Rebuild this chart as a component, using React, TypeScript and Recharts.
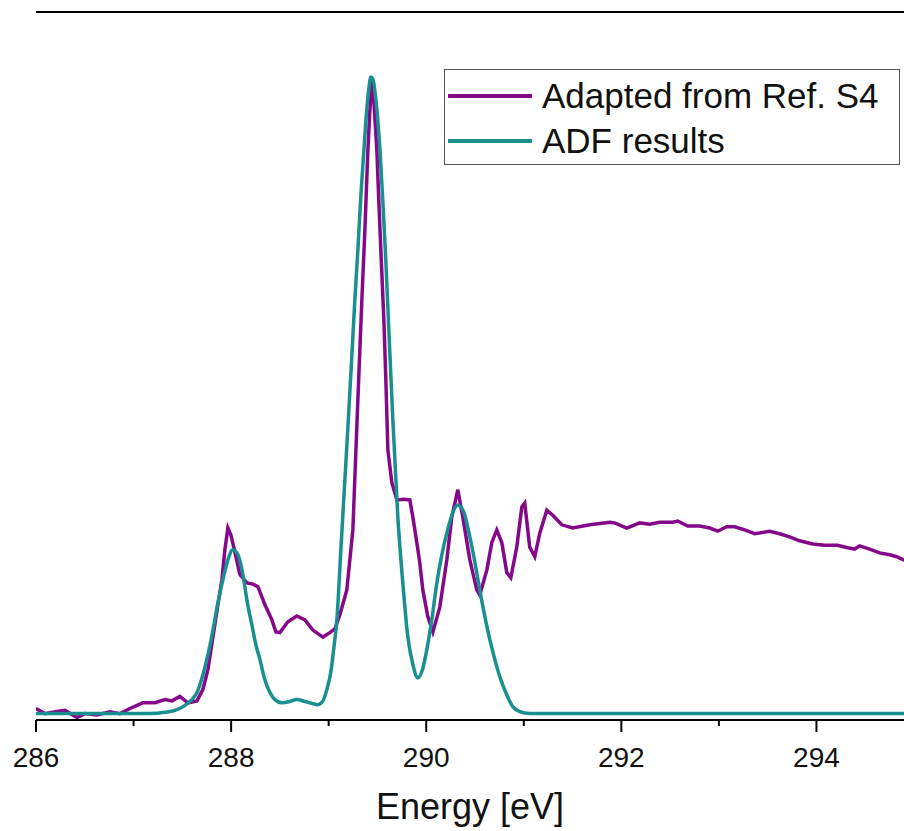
import React from 'react'
import { LineChart, Line, XAxis, YAxis, ReferenceLine, Legend } from 'recharts'

// energy (eV) / intensity (normalised, main ADF peak = 1)
const refEnergy = [
  286.0, 286.092, 286.195, 286.297, 286.42, 286.502, 286.625, 286.758, 286.861, 286.963,
  287.096, 287.219, 287.322, 287.393, 287.475, 287.557, 287.65, 287.711, 287.762, 287.814,
  287.865, 287.906, 287.936, 287.967, 287.998, 288.029, 288.09, 288.162, 288.223, 288.275,
  288.346, 288.418, 288.459, 288.5, 288.582, 288.674, 288.756, 288.838, 288.941, 289.012,
  289.064, 289.115, 289.186, 289.248, 289.299, 289.34, 289.371, 289.402, 289.422, 289.443,
  289.463, 289.494, 289.514, 289.535, 289.566, 289.586, 289.607, 289.648, 289.699, 289.77,
  289.832, 289.863, 289.904, 289.934, 289.965, 290.016, 290.068, 290.139, 290.211, 290.262,
  290.324, 290.375, 290.447, 290.518, 290.549, 290.621, 290.672, 290.723, 290.775, 290.826,
  290.867, 290.928, 290.98, 291.01, 291.061, 291.113, 291.164, 291.236, 291.297, 291.389,
  291.502, 291.676, 291.881, 291.932, 292.055, 292.189, 292.291, 292.393, 292.527, 292.578,
  292.68, 292.803, 292.906, 292.988, 293.08, 293.162, 293.264, 293.367, 293.52, 293.623,
  293.725, 293.828, 293.961, 294.084, 294.217, 294.32, 294.391, 294.443, 294.545, 294.648,
  294.75, 294.822, 294.893, 295.0,
]
const refIntensity = [
  0.008, 0.0, 0.003, 0.005, -0.006, 0.0, -0.002, 0.003, 0.0, 0.008,
  0.017, 0.017, 0.022, 0.02, 0.027, 0.017, 0.02, 0.038, 0.069, 0.12,
  0.171, 0.21, 0.257, 0.291, 0.28, 0.26, 0.218, 0.205, 0.203, 0.199,
  0.171, 0.147, 0.128, 0.127, 0.144, 0.153, 0.147, 0.131, 0.12, 0.127,
  0.133, 0.155, 0.194, 0.288, 0.491, 0.648, 0.757, 0.883, 0.945, 0.992,
  0.961, 0.883, 0.804, 0.726, 0.617, 0.523, 0.413, 0.362, 0.335, 0.336,
  0.335, 0.308, 0.268, 0.236, 0.194, 0.152, 0.128, 0.167, 0.241, 0.308,
  0.351, 0.308, 0.241, 0.194, 0.186, 0.225, 0.268, 0.288, 0.268, 0.221,
  0.213, 0.261, 0.324, 0.33, 0.261, 0.246, 0.283, 0.319, 0.311, 0.296,
  0.291, 0.296, 0.3, 0.299, 0.291, 0.299, 0.297, 0.3, 0.3, 0.302,
  0.294, 0.294, 0.291, 0.286, 0.293, 0.293, 0.288, 0.282, 0.286, 0.282,
  0.277, 0.271, 0.266, 0.264, 0.264, 0.26, 0.258, 0.263, 0.258, 0.252,
  0.249, 0.246, 0.241, 0.236,
]

const adfEnergy = [
  286.0, 286.656, 287.168, 287.322, 287.424, 287.527, 287.598, 287.65, 287.711, 287.762,
  287.814, 287.865, 287.916, 287.967, 288.018, 288.07, 288.121, 288.162, 288.213, 288.254,
  288.295, 288.346, 288.398, 288.449, 288.52, 288.602, 288.674, 288.756, 288.828, 288.889,
  288.941, 288.982, 289.023, 289.053, 289.084, 289.125, 289.166, 289.207, 289.238, 289.268,
  289.299, 289.33, 289.361, 289.391, 289.412, 289.432, 289.453, 289.473, 289.504, 289.525,
  289.555, 289.586, 289.617, 289.658, 289.709, 289.76, 289.811, 289.863, 289.914, 289.955,
  290.006, 290.057, 290.109, 290.16, 290.211, 290.262, 290.324, 290.385, 290.447, 290.498,
  290.549, 290.6, 290.652, 290.703, 290.754, 290.816, 290.887, 290.959, 291.061, 291.779,
  295.0,
]
const adfIntensity = [
  0.0, 0.0, 0.0, 0.002, 0.005, 0.013, 0.022, 0.033, 0.061, 0.092,
  0.131, 0.174, 0.21, 0.241, 0.257, 0.249, 0.218, 0.178, 0.139, 0.108,
  0.085, 0.053, 0.033, 0.022, 0.017, 0.019, 0.022, 0.019, 0.016, 0.014,
  0.02, 0.038, 0.066, 0.103, 0.147, 0.257, 0.366, 0.476, 0.562, 0.648,
  0.726, 0.812, 0.883, 0.948, 0.98, 0.998, 0.995, 0.977, 0.93, 0.886,
  0.804, 0.71, 0.601, 0.46, 0.308, 0.205, 0.121, 0.077, 0.056, 0.066,
  0.1, 0.147, 0.205, 0.249, 0.283, 0.311, 0.327, 0.316, 0.277, 0.238,
  0.194, 0.153, 0.116, 0.085, 0.058, 0.033, 0.011, 0.003, 0.0, 0.0,
  0.0,
]

const seriesNames = ['Adapted from Ref. S4', 'ADF results']
const energyTicks = [286, 287, 288, 289, 290, 291, 292, 293, 294]

const refData = refEnergy.map((e, i) => ({ e, v: refIntensity[i] }))
const adfData = adfEnergy.map((e, i) => ({ e, v: adfIntensity[i] }))

const FONT = '"Liberation Sans", Arial, sans-serif'
const PURPLE = '#86088a'
const TEAL = '#198f8f'

const EnergyTick = (props: any) => {
  const { x, y, payload } = props
  const major = payload.value % 2 === 0
  return (
    <g>
      <line x1={x} y1={y} x2={x} y2={y + (major ? 12 : 6)} stroke="#000" strokeWidth={2} />
      {major && (
        <text x={x} y={y + 47} textAnchor="middle" fontSize={28} fill="#111" fontFamily={FONT}>
          {payload.value}
        </text>
      )}
    </g>
  )
}

const LegendBox = (props: any) => {
  const items = [...(props.payload || [])].sort(
    (a: any, b: any) => seriesNames.indexOf(a.value) - seriesNames.indexOf(b.value)
  )
  return (
    <div style={{ width: 456, height: 96, border: '1.5px solid #555', boxSizing: 'border-box', background: '#fff', position: 'relative', fontFamily: FONT }}>
      {items.map((it: any, i: number) => (
        <div key={i} style={{ position: 'absolute', left: 3, top: 6 + i * 45, height: 40, display: 'flex', alignItems: 'center' }}>
          <div style={{ width: 84, height: 3.5, background: it.color }} />
          <span style={{ marginLeft: 10, fontSize: 35, lineHeight: '40px', color: '#111', whiteSpace: 'nowrap' }}>{it.value}</span>
        </div>
      ))}
    </div>
  )
}

export default function App() {
  return (
    <div style={{ position: 'absolute', left: 0, top: 0, width: 904, height: 831, overflow: 'hidden', background: '#fff' }}>
      <LineChart width={914} height={831} margin={{ top: 12, right: 0, bottom: 0, left: 36 }} style={{ fontFamily: FONT }}>
        <XAxis
          dataKey="e"
          type="number"
          domain={[286, 295]}
          ticks={energyTicks}
          allowDataOverflow
          height={111}
          axisLine={{ stroke: '#000', strokeWidth: 2 }}
          tickLine={false}
          tickSize={0}
          tickMargin={0}
          tick={<EnergyTick />}
          label={{ value: 'Energy [eV]', position: 'insideBottom', offset: 12, fontSize: 36, fill: '#111', dx: -5 }}
        />
        <YAxis
          type="number"
          domain={[-0.01, 1.1]}
          allowDataOverflow
          width={0}
          tick={false}
          tickLine={false}
          axisLine={{ stroke: '#000', strokeWidth: 2 }}
        />
        <ReferenceLine y={1.1} stroke="#000" strokeWidth={2} />
        <Legend
          layout="vertical"
          align="center"
          verticalAlign="middle"
          content={<LegendBox />}
          wrapperStyle={{ left: 444, top: 69, width: 456 }}
        />
        <Line data={refData} dataKey="v" name={seriesNames[0]} type="linear" stroke={PURPLE} strokeWidth={3.5} dot={false} isAnimationActive={false} />
        <Line data={adfData} dataKey="v" name={seriesNames[1]} type="monotone" stroke={TEAL} strokeWidth={3.5} dot={false} isAnimationActive={false} />
      </LineChart>
    </div>
  )
}
